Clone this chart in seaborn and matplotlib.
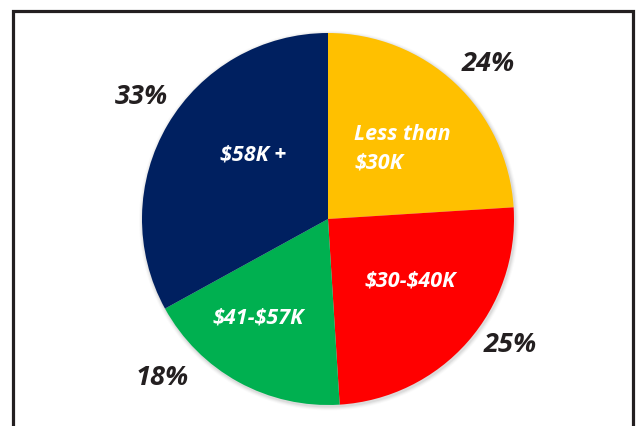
import matplotlib
matplotlib.use("Agg")
import matplotlib.pyplot as plt
from matplotlib.patches import Rectangle, Circle
import seaborn as sns

# Household income distribution
categories = ["Less than\n$30K", "$30-$40K", "$41-$57K", "$58K +"]
shares = [24, 25, 18, 33]
pct_labels = ["24%", "25%", "18%", "33%"]
colors = ["#FFC000", "#FF0000", "#00B050", "#002060"]

sns.set_theme(style="white")
plt.rcParams["font.family"] = ["Open Sans", "DejaVu Sans"]
plt.rcParams["text.parse_math"] = False

W, H = 637, 426
fig = plt.figure(figsize=(W / 100, H / 100), dpi=100)
ax = fig.add_axes([0, 0, 1, 1])
ax.set_xlim(0, W)
ax.set_ylim(0, H)
ax.set_aspect("equal")
ax.axis("off")

cx, cy, r = 328, H - 219, 186

# soft shadow behind the pie
for k, a in enumerate([0.05, 0.04, 0.03, 0.02]):
    ax.add_patch(Circle((cx + 1, cy - 1.5), r + 1 + k, color="#000000", alpha=a,
                        lw=0, zorder=0))

ax.pie(shares, colors=sns.color_palette(colors), startangle=90, counterclock=False,
       center=(cx, cy), radius=r, wedgeprops=dict(linewidth=0))
ax.set_xlim(0, W)
ax.set_ylim(0, H)

# slice labels inside the wedges
inner_pos = [(354, 149), (410, 281), (258, 318), (253, 155)]
inner_ha = ["left", "center", "center", "center"]
for lab, (x, y), ha in zip(categories, inner_pos, inner_ha):
    ax.text(x, H - y, lab, color="white", fontsize=15.5, fontweight="bold",
            fontstyle="italic", ha=ha, va="center", linespacing=1.5)

# percentage labels outside the pie
pct_pos = [(488, 64), (510, 345), (162, 378), (141, 97)]
for lab, (x, y) in zip(pct_labels, pct_pos):
    ax.text(x, H - y, lab, color="#231F20", fontsize=19.5, fontweight="bold",
            fontstyle="italic", ha="center", va="center")

# outer frame
fig.patches.append(Rectangle((12.5 / W, -0.1), (633 - 12.5) / W, (H - 10.5) / H + 0.1,
                             transform=fig.transFigure, fill=False,
                             edgecolor="#231F20", linewidth=2.3))

fig.savefig("out.png", dpi=100)
